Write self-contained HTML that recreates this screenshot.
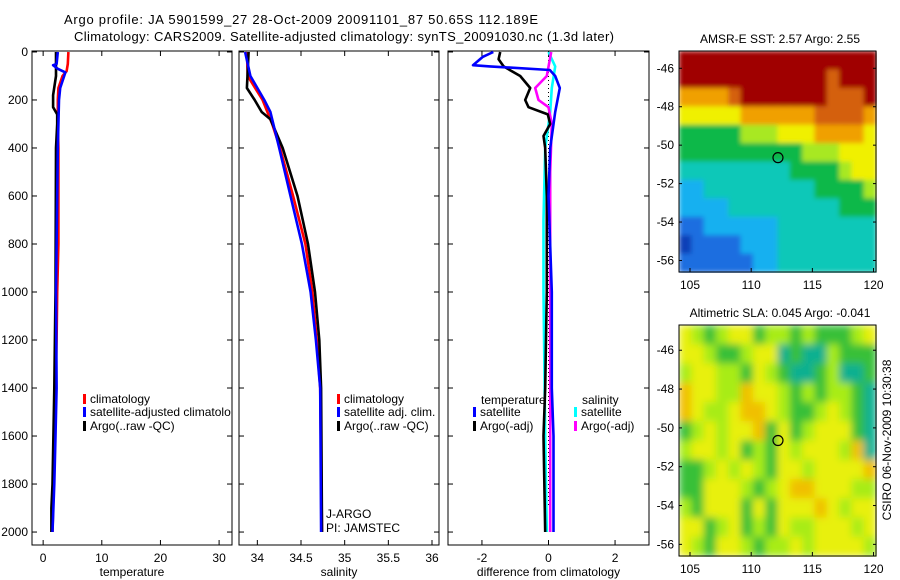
<!DOCTYPE html>
<html><head><meta charset="utf-8"><style>
html,body{margin:0;padding:0;background:#fff;}
svg{display:block;font-family:"Liberation Sans",sans-serif;}
</style></head><body>
<svg id="fig" width="900" height="580" viewBox="0 0 900 580">
<defs>
<filter id="blurSst" x="0" y="0" width="1" height="1"><feGaussianBlur stdDeviation="2.5" edgeMode="duplicate"/></filter>
<filter id="blurSla" x="0" y="0" width="1" height="1"><feGaussianBlur stdDeviation="4" edgeMode="duplicate"/></filter>
</defs>
<text x="64" y="24" font-size="13" textLength="474">Argo profile: JA 5901599_27 28-Oct-2009 20091101_87 50.65S 112.189E</text>
<text x="74" y="41" font-size="13" textLength="540">Climatology: CARS2009. Satellite-adjusted climatology: synTS_20091030.nc (1.3d later)</text>
<g id="g"></g>
</svg>
<script>
// ---- data ----
const tempClimDepth=[0,50,80,100,150,200,250,300,400,600,800,1000,1200,1400,1600,1800,2000];
const tempClim=[4.3,4.2,4.0,3.3,2.6,2.5,2.5,2.5,2.6,2.6,2.6,2.4,2.3,2.1,2.0,1.8,1.6];
const tempSatDepth=[0,50,55,70,85,150,200,300,400,600,1000,1400,1600,1800,2000];
const tempSat=[2.5,2.3,1.7,2.5,3.8,2.9,2.7,2.6,2.5,2.4,2.2,2.3,2.1,1.9,1.6];
const tempArgoDepth=[0,100,180,230,260,300,400,1000,1400,1800,1900,2000];
const tempArgo=[2.2,2.2,1.7,1.7,2.4,2.4,2.2,2.1,1.9,1.6,1.4,1.4];
const salClimDepth=[0,100,200,300,400,600,800,1000,1200,1400,2000];
const salClim=[33.88,33.89,34.06,34.17,34.26,34.41,34.55,34.63,34.68,34.72,34.74];
const salSatDepth=[0,100,200,250,400,600,800,1000,1200,1400,2000];
const salSat=[33.86,33.92,34.08,34.15,34.25,34.38,34.51,34.61,34.67,34.72,34.73];
const salArgoDepth=[0,150,200,250,280,400,600,800,1000,1200,1400,2000];
const salArgo=[33.9,33.88,33.97,34.05,34.15,34.29,34.46,34.58,34.66,34.71,34.73,34.74];
const dTSatDepth=[0,20,55,60,75,100,150,250,400,600,1000,1400,1600,2000];
const dTSat=[-1.66,-1.97,-2.27,-1.76,0.04,0.2,0.34,0.2,0.05,0,0.1,0.1,0.15,0.15];
const dTArgoDepth=[0,30,60,100,150,200,230,260,300,350,400,600,1000,1400,1600,2000];
const dTArgo=[-1.45,-1.5,-1.35,-0.85,-0.55,-0.7,-0.6,-0.02,0.05,-0.15,-0.1,-0.05,-0.05,-0.1,-0.15,-0.1];
const dSArgoDepth=[0,100,150,200,230,300,500,800,1200,1800,2000];
const dSArgo=[0.08,-0.05,-0.4,-0.3,0,0.1,0.05,0.05,0.05,0.05,0.05];
const dSSatDepth=[0,60,150,250,400,700,1000,1600,2000];
const dSSat=[0,0.2,0.1,0.05,-0.1,-0.15,-0.15,-0.1,-0.05];
const depthTicks=[0,200,400,600,800,1000,1200,1400,1600,1800,2000];
const tempTicks=[0,10,20,30];
const salTicks=[34,34.5,35,35.5,36];
const diffTicks=[-2,0,2];
const lonTicks=[105,110,115,120];
const latTicks=[-46,-48,-50,-52,-54,-56];
const argoLon=112.189, argoLat=-50.65;
const sstGrid=["9999999999999999","9999999999998999","7777899999998889","6666677777788887","4444455566677776","4444444444555666","3333333334444566","2233333333344445","2222333333333444","1122222233333333","0111122233333333","1111112233333333"];
const slaGrid=["6545664554544456","6654456634335444","5665546543345334","7665576654545543","7655677654456543","4565667464566643","5665645465666573","4456565466566667","4466654567766655","5466646466676566","6645645465566656","6546654556566665"];
const sstColors=["#1040b8","#1a6ee0","#18b0f0","#10c8b8","#10b848","#a8e820","#f0f000","#f0a000","#d46010","#a00000"];
const slaColors=["#1040b8","#1a6ee0","#18b0f0","#10b090","#38c038","#a8ec18","#e8f010","#f0c000","#e08000","#a00000"];
// ---- drawing ----
const NS="http://www.w3.org/2000/svg";
const G=document.getElementById('g');
function el(t,a,p){const e=document.createElementNS(NS,t);for(const k in a)e.setAttribute(k,a[k]);(p||G).appendChild(e);return e;}
function lin(d0,d1,r0,r1){return v=>r0+(v-d0)*(r1-r0)/(d1-d0);}
const yD=lin(-4,2054,51,545);
function panel(name,x0,x1,dom,ticks,label,showDepth){
  const x=lin(dom[0],dom[1],x0,x1);
  const r=el('rect',{x:x0,y:51,width:x1-x0,height:494,fill:'none',stroke:'#000','stroke-width':1});
  
  
  ticks.forEach(t=>{
    el('line',{x1:x(t),x2:x(t),y1:545,y2:540,stroke:'#000'});
    el('line',{x1:x(t),x2:x(t),y1:51,y2:56,stroke:'#000'});
    const tx=el('text',{x:x(t),y:562,'font-size':12,'text-anchor':'middle'});tx.textContent=t;
    
    
  });
  depthTicks.forEach(d=>{
    el('line',{x1:x0,x2:x0+5,y1:yD(d),y2:yD(d),stroke:'#000'});
    el('line',{x1:x1,x2:x1-5,y1:yD(d),y2:yD(d),stroke:'#000'});
    if(showDepth){const tx=el('text',{x:28,y:yD(d)+4,'font-size':12,'text-anchor':'end'});tx.textContent=d;
      
      }
  });
  const lb=el('text',{x:(x0+x1)/2,y:576,'font-size':12,'text-anchor':'middle'});lb.textContent=label;
  
  
  return x;
}
function series(x,depths,vals,color,name){
  let d='';vals.forEach((v,i)=>{d+=(i?'L':'M')+x(v).toFixed(1)+','+yD(depths[i]).toFixed(1);});
  const p=el('path',{d:d,fill:'none',stroke:color,'stroke-width':2.6,'stroke-linejoin':'round'});
  
  
}
function legend(x,y,color,text,name){
  el('rect',{x:x,y:y-9,width:3,height:10,fill:color});
  const t=el('text',{x:x+7,y:y,'font-size':12});t.textContent=text;
  
  
}
// panel 1
const xT=panel('temperature-panel',32,232,[-1.9,32.2],tempTicks,'temperature',true);
series(xT,tempClimDepth,tempClim,'#f00','temp-climatology-line');
series(xT,tempArgoDepth,tempArgo,'#000','temp-argo-line');
series(xT,tempSatDepth,tempSat,'#00f','temp-satellite-line');
legend(83,403,'#f00','climatology','legend-climatology');
legend(83,416,'#00f','satellite-adjusted climatolo','legend-satellite');
legend(83,430,'#000','Argo(..raw -QC)','legend-argo');
// panel 2
const xS=panel('salinity-panel',239,439,[33.79,36.08],salTicks,'salinity',false);
series(xS,salClimDepth,salClim,'#f00','sal-climatology-line');
series(xS,salArgoDepth,salArgo,'#000','sal-argo-line');
series(xS,salSatDepth,salSat,'#00f','sal-satellite-line');
legend(337,403,'#f00','climatology','legend2-climatology');
legend(337,416,'#00f','satellite adj. clim.','legend2-satellite');
legend(337,430,'#000','Argo(..raw -QC)','legend2-argo');
[['J-ARGO',518],['PI: JAMSTEC',532]].forEach(a=>{const t=el('text',{x:326,y:a[1],'font-size':12});t.textContent=a[0];
  
  });
// panel 3
const xDf=panel('difference-panel',448,649,[-3.02,3.02],diffTicks,'difference from climatology',false);
el('line',{x1:xDf(0),x2:xDf(0),y1:52,y2:yD(1900),stroke:'#000','stroke-dasharray':'1,3'});
series(xDf,dSSatDepth,dSSat,'#0ff','sal-satellite-diff-line');
series(xDf,dSArgoDepth,dSArgo,'#f0f','sal-argo-diff-line');
series(xDf,dTArgoDepth,dTArgo,'#000','temp-argo-diff-line');
series(xDf,dTSatDepth,dTSat,'#00f','temp-satellite-diff-line');
{const t=el('text',{x:481,y:404,'font-size':12});t.textContent='temperature';
 
 
 const s=el('text',{x:582,y:404,'font-size':12});s.textContent='salinity';
 
 }
legend(473,416,'#00f','satellite','legend3-temp-satellite');
legend(473,430,'#000','Argo(-adj)','legend3-temp-argo');
legend(574,416,'#0ff','satellite','legend3-sal-satellite');
legend(574,430,'#f0f','Argo(-adj)','legend3-sal-argo');
// maps
function map(name,grid,colors,top,bottom,latTop,latBot,title,filt){
  const x0=679,x1=876;
  const x=lin(104.1,120.2,x0,x1), y=lin(latTop,latBot,top,bottom);
  const rows=grid.length, cols=grid[0].length;
  const cw=(x1-x0)/cols, ch=(bottom-top)/rows;
  const cg=el('g',{filter:'url(#'+filt+')'});
  
  
  grid.forEach((row,i)=>{for(let j=0;j<cols;j++){
    const c=el('rect',{x:(x0+j*cw).toFixed(2),y:(top+i*ch).toFixed(2),width:(cw+0.6).toFixed(2),height:(ch+0.6).toFixed(2),fill:colors[+row[j]]},cg);
    
    
  }});
  const r=el('rect',{x:x0,y:top,width:x1-x0,height:bottom-top,fill:'none',stroke:'#000'});
  
  
  lonTicks.forEach(t=>{el('line',{x1:x(t),x2:x(t),y1:bottom,y2:bottom-4,stroke:'#000'});
    const tx=el('text',{x:x(t),y:bottom+17,'font-size':12,'text-anchor':'middle'});tx.textContent=t;
    
    });
  latTicks.forEach(t=>{const yy=y(t);if(yy<top||yy>bottom)return;
    el('line',{x1:x0,x2:x0+3,y1:yy,y2:yy,stroke:'#000'});el('line',{x1:x1,x2:x1-3,y1:yy,y2:yy,stroke:'#000'});
    const tx=el('text',{x:674,y:yy+4,'font-size':12,'text-anchor':'end'});tx.textContent=t;
    
    });
  const c=el('circle',{cx:x(argoLon),cy:y(argoLat),r:5,fill:'none',stroke:'#000','stroke-width':1.2});
  
  
  const t=el('text',{x:780,y:top-8,'font-size':12,'text-anchor':'middle'});t.textContent=title;
  
  
}
map('sst-map',sstGrid,sstColors,51,272,-45.1,-56.6,'AMSR-E SST: 2.57 Argo: 2.55','blurSst');
map('sla-map',slaGrid,slaColors,325,556,-44.7,-56.6,'Altimetric SLA: 0.045 Argo: -0.041','blurSla');
{const t=el('text',{x:0,y:0,'font-size':12,'text-anchor':'middle',transform:'translate(891,440) rotate(-90)'});
 t.textContent='CSIRO 06-Nov-2009 10:30:38';
 
 }
</script>
</body></html>
